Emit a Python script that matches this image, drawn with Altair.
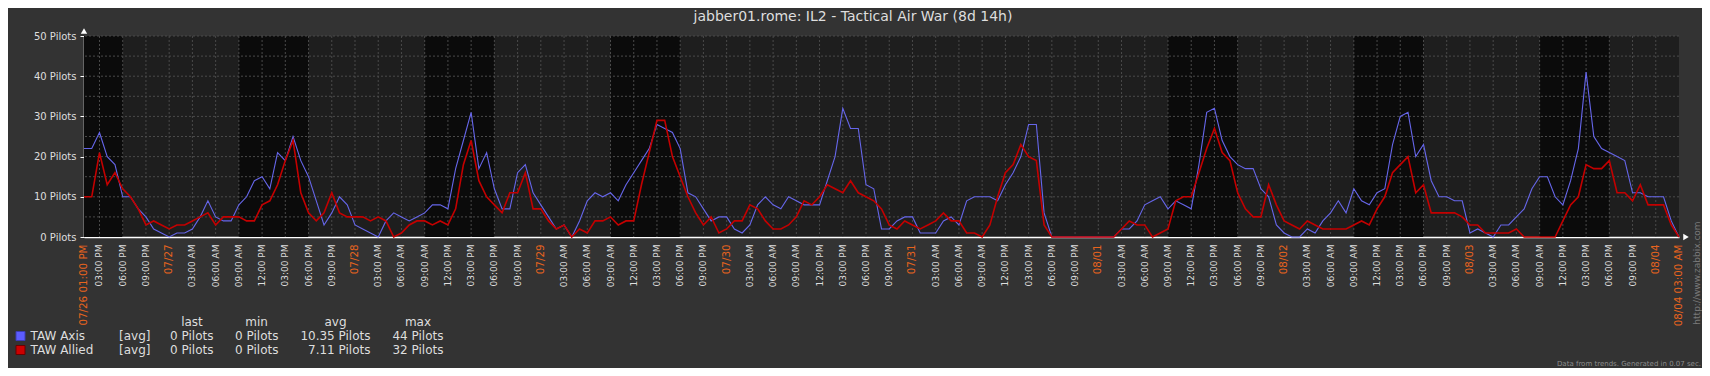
import altair as alt
import pandas as pd

# ---------------- data ----------------
TITLE = "jabber01.rome: IL2 - Tactical Air War (8d 14h)"
START = "2016-07-26 13:00"
END = "2016-08-04 03:00"

axis_pilots = [
    22, 22, 26, 20, 18, 10, 10, 7, 5, 2,
    1, 0, 1, 1, 2, 5, 9, 5, 4, 4,
    8, 10, 14, 15, 12, 21, 19, 25, 19, 15,
    9, 3, 6, 10, 8, 3, 2, 1, 0, 4,
    6, 5, 4, 5, 6, 8, 8, 7, 17, 24,
    31, 17, 21, 12, 7, 7, 16, 18, 11, 8,
    5, 2, 3, 0, 4, 9, 11, 10, 11, 9,
    13, 16, 19, 22, 28, 27, 26, 22, 11, 10,
    7, 4, 5, 5, 2, 1, 3, 8, 10, 8,
    7, 10, 9, 8, 8, 8, 14, 20, 32, 27,
    27, 13, 12, 2, 2, 4, 5, 5, 1, 1,
    1, 4, 5, 3, 9, 10, 10, 10, 9, 13,
    16, 20, 28, 28, 6, 0, 0, 0, 0, 0,
    0, 0, 0, 0, 2, 2, 4, 8, 9, 10,
    7, 9, 8, 7, 18, 31, 32, 24, 20, 18,
    17, 17, 12, 10, 3, 1, 0, 0, 2, 1,
    4, 6, 9, 6, 12, 9, 8, 11, 12, 23,
    30, 31, 20, 23, 14, 10, 10, 9, 9, 1,
    2, 1, 0, 3, 3, 5, 7, 12, 15, 15,
    10, 8, 14, 22, 41, 25, 22, 21, 20, 19,
    11, 11, 10, 10, 10, 4, 0,
]

allied_pilots = [
    10, 10, 21, 13, 16, 12, 10, 7, 3, 4,
    3, 2, 3, 3, 4, 5, 6, 3, 5, 5,
    5, 4, 4, 8, 9, 13, 19, 24, 11, 6,
    4, 6, 11, 6, 5, 5, 5, 4, 5, 4,
    0, 1, 3, 4, 4, 3, 4, 3, 7, 18,
    24, 14, 10, 8, 6, 11, 11, 16, 7, 7,
    4, 2, 3, 0, 2, 1, 4, 4, 5, 3,
    4, 4, 13, 21, 29, 29, 20, 15, 10, 6,
    3, 5, 1, 2, 4, 4, 8, 7, 4, 2,
    2, 3, 5, 9, 8, 10, 13, 12, 11, 14,
    11, 10, 9, 7, 3, 2, 4, 3, 2, 3,
    4, 6, 4, 4, 1, 1, 0, 3, 10, 16,
    18, 23, 20, 19, 3, 0, 0, 0, 0, 0,
    0, 0, 0, 0, 2, 4, 3, 3, 0, 1,
    2, 9, 10, 10, 16, 22, 27, 21, 19, 11,
    7, 5, 5, 13, 8, 4, 3, 2, 4, 3,
    2, 2, 2, 2, 3, 4, 3, 7, 10, 16,
    18, 20, 11, 13, 6, 6, 6, 6, 5, 3,
    3, 1, 1, 1, 1, 2, 0, 0, 0, 0,
    0, 4, 8, 10, 18, 17, 17, 19, 11, 11,
    9, 13, 8, 8, 8, 3, 0,
]

work_start = ["2016-07-26 13:00", "2016-07-27 09:00", "2016-07-28 09:00",
              "2016-07-29 09:00", "2016-08-01 09:00", "2016-08-02 09:00",
              "2016-08-03 09:00"]
work_end = ["2016-07-26 18:00", "2016-07-27 18:00", "2016-07-28 18:00",
            "2016-07-29 18:00", "2016-08-01 18:00", "2016-08-02 18:00",
            "2016-08-03 18:00"]

y_grid = [5, 10, 15, 20, 25, 30, 35, 40, 45, 50]
y_labels = [0, 10, 20, 30, 40, 50]

legend_names = ["TAW Axis", "TAW Allied"]
legend_func = ["[avg]", "[avg]"]
legend_headers = ["last", "min", "avg", "max"]
legend_last = ["0 Pilots", "0 Pilots"]
legend_min = ["0 Pilots", "0 Pilots"]
legend_avg = ["10.35 Pilots", "7.11 Pilots"]
legend_max = ["44 Pilots", "32 Pilots"]

FOOTER = "Data from trends. Generated in 0.07 sec."
URL = "http://www.zabbix.com"

# ---------------- styles ----------------
FONT = "DejaVu Sans"
BG = "#333333"
PLOT_BG = "#1e1e1e"
WORK_BG = "#0b0b0b"
GRID = "#4a4a4a"
BLUE = "#6666ea"
RED = "#c40000"
ORANGE = "#e8641e"
TXT = "#dedede"
legend_fill = ["#5c5cff", "#cc0000"]
legend_stroke = ["#3c3cb4", "#6a0000"]

W, H = 1595, 201


def iso(s):
    return pd.Timestamp(s).strftime("%Y-%m-%dT%H:%M:%SZ")


hours = [iso(t) for t in pd.date_range(START, periods=len(axis_pilots), freq="h")]
tick_ts = [pd.Timestamp(START)] + list(pd.date_range("2016-07-26 15:00", END, freq="3h"))


def tick_text(ts, i):
    if i == 0 or i == len(tick_ts) - 1:
        return ts.strftime("%m/%d %I:%M %p")
    if ts.hour == 0:
        return ts.strftime("%m/%d")
    return ts.strftime("%I:%M %p")


tick_labels = [tick_text(ts, i) for i, ts in enumerate(tick_ts)]
tick_major = [i == 0 or i == len(tick_ts) - 1 or ts.hour == 0 for i, ts in enumerate(tick_ts)]

xs = alt.Scale(type="utc", domain=[iso(START), iso(END)], nice=False)
ys = alt.Scale(domain=[0, 50], nice=False, zero=True)

x_axis = alt.Axis(labels=False, ticks=False, grid=False, domain=True,
                  domainColor="#ffffff", domainWidth=1.5, title=None)
y_axis = alt.Axis(
    values=y_labels, labelExpr="datum.value + ' Pilots'", ticks=True, tickSize=4,
    tickColor="#ffffff", labelPadding=4, domain=True, domainColor="#ffffff",
    domainWidth=1.5, labelColor=TXT, labelFontSize=10, labelFont=FONT,
    grid=False, title=None, labelOverlap=False,
)

# ---------------- layers ----------------
axes_owner = alt.Chart(pd.DataFrame({"t": hours, "v": axis_pilots})).mark_line(
    opacity=0).encode(
    x=alt.X("t:T", scale=xs, axis=x_axis),
    y=alt.Y("v:Q", scale=ys, axis=y_axis))

bands = alt.Chart(pd.DataFrame({"t": [iso(s) for s in work_start],
                                "t2": [iso(s) for s in work_end]})).mark_rect(
    color=WORK_BG).encode(
    x=alt.X("t:T", scale=xs), x2="t2:T")

vgrid = alt.Chart(pd.DataFrame({"t": [iso(t) for t in tick_ts[1:-1]]})).mark_rule(
    color=GRID, strokeDash=[2, 2], strokeWidth=1).encode(
    x=alt.X("t:T", scale=xs))

hgrid = alt.Chart(pd.DataFrame({"v": y_grid})).mark_rule(
    color=GRID, strokeDash=[2, 2], strokeWidth=1).encode(
    y=alt.Y("v:Q", scale=ys))

blue = alt.Chart(pd.DataFrame({"t": hours, "v": axis_pilots})).mark_line(
    color=BLUE, strokeWidth=1.1).encode(
    x=alt.X("t:T", scale=xs), y=alt.Y("v:Q", scale=ys))

red = alt.Chart(pd.DataFrame({"t": hours, "v": allied_pilots})).mark_line(
    color=RED, strokeWidth=1.6).encode(
    x=alt.X("t:T", scale=xs), y=alt.Y("v:Q", scale=ys))

arrow_up = alt.Chart(pd.DataFrame({"t": [iso(START)], "v": [50]})).mark_point(
    shape="triangle-up", filled=True, color="#ffffff", size=40, opacity=1,
    yOffset=-5).encode(
    x=alt.X("t:T", scale=xs), y=alt.Y("v:Q", scale=ys))

arrow_right = alt.Chart(pd.DataFrame({"t": [iso(END)], "v": [0]})).mark_point(
    shape="triangle-right", filled=True, color="#ffffff", size=40, opacity=1,
    xOffset=7).encode(
    x=alt.X("t:T", scale=xs), y=alt.Y("v:Q", scale=ys))

# x tick labels, placed through the x scale
tick_df = pd.DataFrame({
    "t": [iso(t) for t in tick_ts],
    "lab": tick_labels,
    "col": [ORANGE if m else TXT for m in tick_major],
    "fs": [10.3 if m else 9 for m in tick_major],
})
xlabels = alt.Chart(tick_df).mark_text(
    angle=270, align="right", baseline="middle", font=FONT).encode(
    x=alt.X("t:T", scale=xs), y=alt.value(H + 7.5), text="lab:N",
    color=alt.Color("col:N", scale=None), size=alt.Size("fs:Q", scale=None))


def label(text, x, y, size=12, color=TXT, align="left", angle=0, baseline="middle"):
    kw = dict(font=FONT, fontSize=size, color=color, align=align, baseline=baseline)
    if angle:
        kw["angle"] = angle
    return alt.Chart(pd.DataFrame({"s": [text]})).mark_text(**kw).encode(
        text="s:N", x=alt.value(x), y=alt.value(y))


texts = [label(TITLE, 769, -19, size=14, align="center")]

row_y = [300, 314]
header_y = 286
col_right = [129.5, 194.5, 286.5, 359.5]
col_center = [108, 172.5, 251.5, 334]
for hx, h in zip(col_center, legend_headers):
    texts.append(label(h, hx, header_y, size=12, align="center"))

squares = []
for i in range(2):
    squares.append(
        alt.Chart(pd.DataFrame({"s": [legend_names[i]]})).mark_square(
            size=81, filled=True, fill=legend_fill[i], stroke=legend_stroke[i],
            strokeWidth=1, opacity=1).encode(x=alt.value(-63.5), y=alt.value(row_y[i])))
    texts.append(label(legend_names[i], -53.5, row_y[i]))
    texts.append(label(legend_func[i], 35, row_y[i]))
    for cx, col in zip(col_right, [legend_last, legend_min, legend_avg, legend_max]):
        texts.append(label(col[i], cx, row_y[i], align="right"))

texts.append(label(FOOTER, 1617, 328, size=7, color="#8c8c8c", align="right"))
texts.append(label(URL, 1613, 237, size=9, color="#7a7a7a", align="center", angle=270))

chart = alt.layer(
    axes_owner, bands, vgrid, hgrid, blue, red, arrow_up, arrow_right, xlabels,
    *squares, *texts
).properties(
    width=W, height=H, background=BG,
    padding={"left": 76, "top": 28, "right": 23, "bottom": 131},
    autosize=alt.AutoSizeParams(type="none"),
).configure_view(fill=PLOT_BG, strokeWidth=0)

chart.save("out.html", embed_options={"renderer": "svg", "actions": False})
